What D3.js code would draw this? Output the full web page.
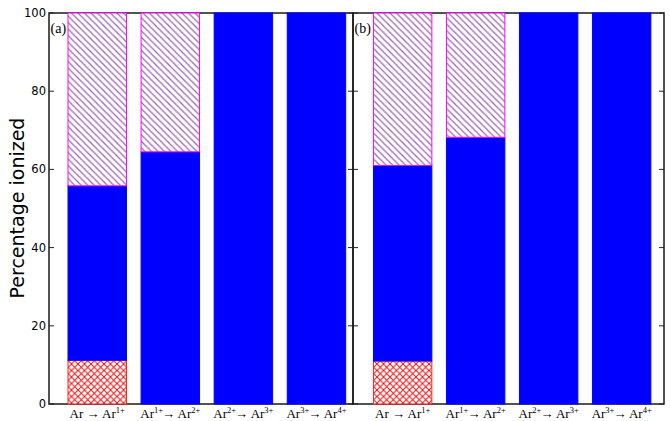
<!DOCTYPE html>
<html>
<head>
<meta charset="utf-8">
<script src="https://cdn.jsdelivr.net/npm/d3@7"></script>
<style>
  body { margin: 0; background: #fff; }
  svg { display: block; }
</style>
</head>
<body>
<svg width="670" height="421"></svg>
<script>
// ionisation step labels: Ar^from -> Ar^to
var fromIon = ['', '1+', '2+', '3+'];
var toIon = ['1+', '2+', '3+', '4+'];
var yTicks = [0, 20, 40, 60, 80, 100];

// percentage in each part of the stacked bar (bottom to top)
var crossA = [11.2, 0, 0, 0];
var solidA = [44.6, 64.5, 100, 100];
var hatchA = [44.2, 35.5, 0, 0];

var crossB = [11.0, 0, 0, 0];
var solidB = [50.0, 68.2, 100, 100];
var hatchB = [39.0, 31.8, 0, 0];

const svg = d3.select('svg');
const defs = svg.append('defs');

// diagonal hatch (\\\) for the top segment
const ph = defs.append('pattern').attr('id', 'hatch')
  .attr('patternUnits', 'userSpaceOnUse').attr('width', 6.5).attr('height', 6.5);
ph.append('rect').attr('width', 6.5).attr('height', 6.5).attr('fill', '#fff');
ph.append('path').attr('d', 'M-1,-1 L7.5,7.5 M-1,5.5 L1,7.5 M5.5,-1 L7.5,1')
  .attr('stroke', '#9c5fb4').attr('stroke-width', 1.15);

// cross hatch for the bottom segment
const px = defs.append('pattern').attr('id', 'cross')
  .attr('patternUnits', 'userSpaceOnUse').attr('width', 6.5).attr('height', 6.5);
px.append('rect').attr('width', 6.5).attr('height', 6.5).attr('fill', '#fff');
px.append('path').attr('d', 'M0,0 L6.5,6.5 M6.5,0 L0,6.5')
  .attr('stroke', '#f01010').attr('stroke-width', 1);

const keys = ['cross', 'solid', 'hatch'];
const fills = {cross: 'url(#cross)', solid: '#0000ff', hatch: 'url(#hatch)'};
const edges = {cross: '#ff2020', solid: '#0000ff', hatch: '#ff00ff'};

const y = d3.scaleLinear().domain([0, 100]).range([404, 13]);

const panels = [
  {name: '(a)', left: 49, right: 353, xlim: [-0.66, 3.5], cross: crossA, solid: solidA, hatch: hatchA, labels: true},
  {name: '(b)', left: 353, right: 664, xlim: [-0.68, 3.58], cross: crossB, solid: solidB, hatch: hatchB, labels: false}
];

panels.forEach(p => {
  const x = d3.scaleLinear().domain(p.xlim).range([p.left, p.right]);
  const g = svg.append('g');
  const rows = fromIon.map((f, i) => ({i: i, cross: p.cross[i], solid: p.solid[i], hatch: p.hatch[i]}));
  const stack = d3.stack().keys(keys)(rows);

  // frame
  g.append('rect')
    .attr('x', p.left).attr('y', y(100))
    .attr('width', p.right - p.left).attr('height', y(0) - y(100))
    .attr('fill', 'none').attr('stroke', '#1a1a1a').attr('stroke-width', 1.5);

  // ticks (inside)
  const tk = g.append('g').attr('stroke', '#222').attr('stroke-width', 1);
  yTicks.forEach(t => {
    tk.append('line').attr('x1', p.left).attr('x2', p.left + 5).attr('y1', y(t)).attr('y2', y(t));
    tk.append('line').attr('x1', p.right).attr('x2', p.right - 5).attr('y1', y(t)).attr('y2', y(t));
  });
  d3.range(4).forEach(i => {
    tk.append('line').attr('x1', x(i)).attr('x2', x(i)).attr('y1', y(0)).attr('y2', y(0) - 5);
    tk.append('line').attr('x1', x(i)).attr('x2', x(i)).attr('y1', y(100)).attr('y2', y(100) + 5);
  });

  // bars
  g.selectAll('g.series').data(stack).join('g').attr('class', 'series')
    .each(function (s) {
      d3.select(this).selectAll('rect')
        .data(s.filter(d => d[1] - d[0] > 0))
        .join('rect')
        .attr('x', d => x(d.data.i - 0.4))
        .attr('width', d => x(d.data.i + 0.4) - x(d.data.i - 0.4))
        .attr('y', d => y(d[1]))
        .attr('height', d => y(d[0]) - y(d[1]))
        .attr('fill', fills[s.key])
        .attr('stroke', edges[s.key])
        .attr('stroke-width', 1);
    });

  // panel tag
  g.append('text').attr('x', p.left + 1.5).attr('y', 33)
    .attr('font-family', 'Liberation Serif, DejaVu Serif, serif').attr('font-size', 14)
    .text(p.name);

  // category labels
  const lab = g.selectAll('text.cat').data(d3.range(4)).join('text').attr('class', 'cat')
    .attr('x', i => x(i)).attr('y', 418)
    .attr('text-anchor', 'middle')
    .attr('font-family', 'Liberation Serif, DejaVu Serif, serif').attr('font-size', 13);
  lab.each(function (i) {
    const t = d3.select(this);
    t.append('tspan').text('Ar');
    if (fromIon[i]) {
      t.append('tspan').attr('font-size', 8.5).attr('dy', -5).text(fromIon[i]);
      t.append('tspan').attr('dy', 5).attr('dx', -1).text('\u2192 Ar');
    } else {
      t.append('tspan').text(' \u2192 Ar');
    }
    t.append('tspan').attr('font-size', 8.5).attr('dy', -5).text(toIon[i]);
  });

  if (p.labels) {
    g.selectAll('text.ytick').data(yTicks).join('text').attr('class', 'ytick')
      .attr('x', p.left - 3).attr('y', t => y(t)).attr('dy', '0.35em')
      .attr('text-anchor', 'end')
      .attr('font-family', 'DejaVu Sans, sans-serif').attr('font-size', 11.5)
      .text(t => t);
  }
});

svg.append('text')
  .attr('transform', 'translate(24,208) rotate(-90)')
  .attr('text-anchor', 'middle')
  .attr('font-family', 'DejaVu Sans, sans-serif').attr('font-size', 19)
  .text('Percentage ionized');
</script>
</body>
</html>
